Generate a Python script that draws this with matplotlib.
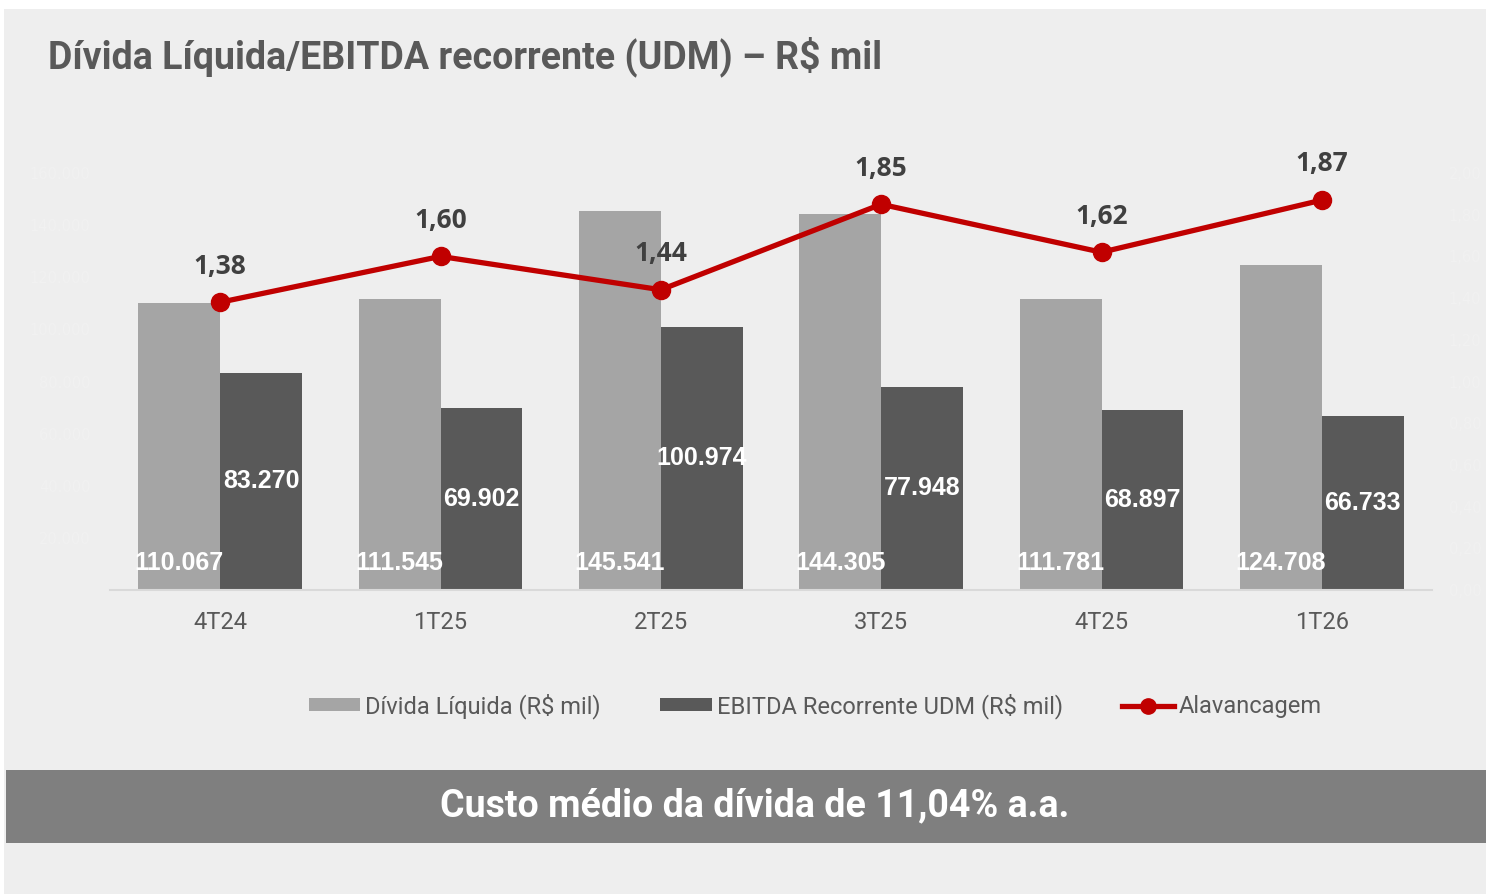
import matplotlib.pyplot as plt
from matplotlib.patches import Rectangle
from matplotlib.lines import Line2D
from matplotlib.ticker import FuncFormatter
import numpy as np

categorias = ["4T24", "1T25", "2T25", "3T25", "4T25", "1T26"]
divida_liquida = [110067, 111545, 145541, 144305, 111781, 124708]
ebitda_udm = [83270, 69902, 100974, 77948, 68897, 66733]
alavancagem = [1.38, 1.60, 1.44, 1.85, 1.62, 1.87]

titulo = "Dívida Líquida/EBITDA recorrente (UDM) – R$ mil"
rodape = "Custo médio da dívida de 11,04% a.a."

COR_CLARA = "#A5A5A5"
COR_ESCURA = "#595959"
COR_LINHA = "#C00000"
COR_FUNDO = "#EEEEEE"
COR_TEXTO = "#595959"
COR_EIXO_FRACO = "#F1F1F1"


def br(v, casas=0):
    s = f"{v:,.{casas}f}"
    return s.replace(",", "X").replace(".", ",").replace("X", ".")


fig = plt.figure(figsize=(14.86, 8.94), dpi=100)
fig.patch.set_facecolor("white")

# painel cinza de fundo e faixa do rodape (atras dos eixos)
fig.patches.append(Rectangle((4 / 1486, 0), 1, 1 - 9 / 894, transform=fig.transFigure,
                             facecolor=COR_FUNDO, edgecolor="none", zorder=-3))
fig.patches.append(Rectangle((6 / 1486, 1 - 843 / 894), 1, 73 / 894, transform=fig.transFigure,
                             facecolor="#7F7F7F", edgecolor="none", zorder=-2))

fig.text(48 / 1486, 1 - 57 / 894, titulo, fontsize=27, fontweight="bold", family="Roboto",
         color=COR_TEXTO, ha="left", va="center")
fig.text(755 / 1486, 1 - 806 / 894, rodape, fontsize=27, fontweight="bold", family="Roboto",
         color="white", ha="center", va="center")

ax = fig.add_axes([110 / 1486, 1 - 590 / 894, 1322 / 1486, 417 / 894])
ax.set_facecolor("none")
ax2 = ax.twinx()

x = np.arange(len(categorias))
w = 0.372

ax.bar(x - w / 2, divida_liquida, w, color=COR_CLARA, zorder=2)
ax.bar(x + w / 2, ebitda_udm, w, color=COR_ESCURA, zorder=2)

for xi, v in zip(x, divida_liquida):
    ax.annotate(br(v), (xi - w / 2, 0), xytext=(0, 19.5), textcoords="offset points",
                ha="center", va="center", color="white", fontsize=18,
                fontweight="bold", family="Liberation Sans", zorder=5)
for xi, v in zip(x, ebitda_udm):
    ax.text(xi + w / 2, v / 2, br(v), ha="center", va="center", color="white",
            fontsize=18, fontweight="bold", family="Liberation Sans", zorder=5)

ax.set_xlim(-0.5, len(categorias) - 0.5)
ax.set_ylim(0, 160000)
ax.set_yticks(np.arange(20000, 160001, 20000))
ax.yaxis.set_major_formatter(FuncFormatter(lambda v, p: br(v)))
ax.tick_params(axis="y", length=0, colors=COR_EIXO_FRACO, labelsize=10.5, pad=14)
ax.set_xticks(x)
ax.set_xticklabels(categorias, family="Roboto", fontsize=17, color=COR_TEXTO)
ax.tick_params(axis="x", length=0, pad=15)
for s in ["top", "right", "left"]:
    ax.spines[s].set_visible(False)
ax.spines["bottom"].set_color("#D9D9D9")
ax.spines["bottom"].set_linewidth(1.5)

ax2.plot(x, alavancagem, color=COR_LINHA, lw=3.8, marker="o", ms=13, zorder=4, clip_on=False)
ax2.set_ylim(0, 2.0)
ax2.set_yticks(np.arange(0, 2.01, 0.2))
ax2.yaxis.set_major_formatter(FuncFormatter(lambda v, p: br(v, 2)))
ax2.tick_params(axis="y", length=0, colors=COR_EIXO_FRACO, labelsize=10.5, pad=12)
for s in ["top", "right", "left", "bottom"]:
    ax2.spines[s].set_visible(False)
for xi, v in zip(x, alavancagem):
    ax2.annotate(br(v, 2), (xi, v), xytext=(0, 26), textcoords="offset points",
                 ha="center", va="center", color="#404040", fontsize=19,
                 fontweight="bold", family="Open Sans")

handles = [
    Rectangle((0, 0), 1, 1, facecolor=COR_CLARA),
    Rectangle((0, 0), 1, 1, facecolor=COR_ESCURA),
    Line2D([], [], color=COR_LINHA, lw=3.8, marker="o", ms=11),
]
labels = ["Dívida Líquida (R$ mil)", "EBITDA Recorrente UDM (R$ mil)", "Alavancagem"]
leg = fig.legend(handles, labels, loc="center", bbox_to_anchor=(815 / 1486, 1 - 706 / 894),
                 ncol=3, frameon=False, handlelength=2.2, handleheight=0.45,
                 handletextpad=0.2, columnspacing=2.5,
                 prop={"family": "Roboto", "size": 17})
for t in leg.get_texts():
    t.set_color(COR_TEXTO)

fig.savefig("out.png", dpi=100, facecolor=fig.get_facecolor())
